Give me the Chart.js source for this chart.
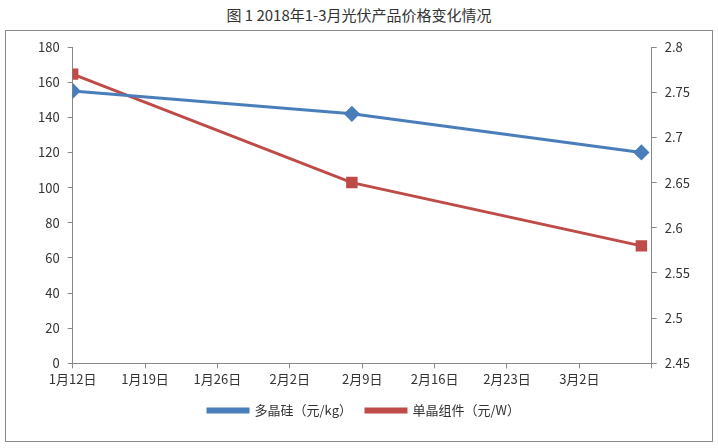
<!DOCTYPE html>
<html>
<head>
<meta charset="utf-8">
<script src="https://cdn.jsdelivr.net/npm/chart.js@4"></script>
<style>
  body { margin: 0; background: #fff; font-family: "Noto Sans CJK SC", sans-serif; }
  #title { position: absolute; left: 0; top: 4px; width: 718px; text-align: center; font-size: 15px; color: #333; }
  #box { position: absolute; left: 5px; top: 30px; width: 706px; height: 410px; border: 1px solid #888; }
</style>
</head>
<body>
<div id="title">图 1 2018年1-3月光伏产品价格变化情况</div>
<div id="box"><canvas id="c" width="706" height="410"></canvas></div>
<script>
// x positions in days after 1月12日
var days = [0, 27, 55];
var tickLabels = ["1月12日", "1月19日", "1月26日", "2月2日", "2月9日", "2月16日", "2月23日", "3月2日", ""];
var polySilicon = [155, 142, 120];
var monoModule = [2.77, 2.65, 2.58];

function pts(vals) {
    return vals.map(function (v, i) { return { x: days[i], y: v }; });
}

var font = { family: "Noto Sans CJK SC", size: 13 };

new Chart(document.getElementById("c").getContext("2d"), {
    type: "line",
    data: {
        datasets: [
            {
                label: "多晶硅（元/kg）",
                data: pts(polySilicon),
                borderColor: "#4a7ebb",
                backgroundColor: "#4a7ebb",
                borderWidth: 3,
                pointStyle: "rectRot",
                pointRadius: 6,
                yAxisID: "y"
            },
            {
                label: "单晶组件（元/W）",
                data: pts(monoModule),
                borderColor: "#be4b48",
                backgroundColor: "#be4b48",
                borderWidth: 3,
                pointStyle: "rect",
                pointRadius: 6,
                yAxisID: "y1"
            }
        ]
    },
    options: {
        responsive: false,
        animation: false,
        layout: { padding: { left: 24, right: 14, top: 16, bottom: 14 } },
        plugins: {
            legend: {
                position: "bottom",
                labels: { usePointStyle: false, boxWidth: 40, boxHeight: 3, font: font, color: "#333", padding: 14 }
            },
            tooltip: { enabled: false }
        },
        scales: {
            x: {
                type: "linear",
                min: 0,
                max: 56,
                ticks: {
                    stepSize: 7,
                    font: font,
                    color: "#333",
                    maxRotation: 0,
                    callback: function (v) { return tickLabels[Math.round(v / 7)]; }
                },
                grid: { display: true, drawOnChartArea: false, tickLength: 5, color: "#888" },
                border: { color: "#888" }
            },
            y: {
                position: "left",
                min: 0,
                max: 180,
                ticks: { stepSize: 20, font: font, color: "#333", padding: 8 },
                grid: { drawOnChartArea: false, tickLength: 5, color: "#888" },
                border: { color: "#888" }
            },
            y1: {
                position: "right",
                min: 2.45,
                max: 2.8,
                ticks: {
                    stepSize: 0.05,
                    font: font,
                    color: "#333",
                    padding: 8,
                    callback: function (v) { return parseFloat(v.toFixed(2)).toString(); }
                },
                grid: { drawOnChartArea: false, tickLength: 5, color: "#888" },
                border: { color: "#888" }
            }
        }
    }
});
</script>
</body>
</html>
